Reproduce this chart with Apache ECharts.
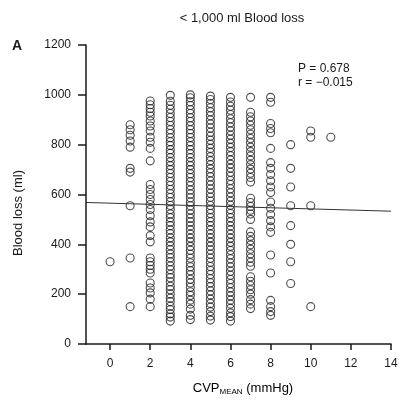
<!DOCTYPE html>
<html>
<head>
<meta charset="utf-8">
<script src="https://cdn.jsdelivr.net/npm/echarts@6/dist/echarts.min.js"></script>
<style>
  html, body { margin: 0; padding: 0; background: #fff; }
  #main { width: 402px; height: 403px; }
</style>
</head>
<body>
<div id="main"></div>
<script>
// blood loss (ml), one list per CVP value (mmHg)
var cvp0 = [330]
var cvp1 = [880, 860, 838, 815, 790, 705, 690, 555, 345, 150]
var cvp2 = [975, 960, 945, 930, 915, 895, 875, 855, 830, 810, 785, 735,
  640, 620, 600, 580, 560, 540, 515, 490, 470, 435, 410,
  345, 330, 315, 300, 285, 245, 225, 205, 180, 150]
var cvp3 = [92, 108, 121, 138, 152, 170, 184, 201, 218, 232, 250, 266, 280, 298, 313, 330, 346, 361, 378, 394,
  410, 426, 443, 458, 475, 490, 507, 522, 540, 556, 571, 588, 603, 620, 636, 652, 668, 684, 700, 716,
  732, 748, 765, 780, 797, 812, 828, 845, 860, 877, 893, 909, 925, 942, 958, 974, 998]
var cvp4 = [98, 115, 140, 160, 176, 195, 210, 228, 245, 260, 278, 294, 310, 326, 344, 360, 376, 392, 410, 425,
  441, 458, 474, 490, 505, 522, 538, 555, 570, 587, 602, 618, 635, 651, 668, 683, 700, 716, 731, 748,
  764, 780, 796, 812, 829, 845, 860, 876, 893, 908, 925, 940, 957, 972, 988, 1000]
var cvp5 = [96, 112, 130, 148, 163, 180, 197, 213, 230, 246, 262, 279, 295, 311, 328, 344, 360, 377, 393, 409,
  426, 442, 458, 475, 491, 507, 524, 540, 556, 573, 589, 605, 622, 638, 654, 671, 687, 703, 720, 736,
  752, 769, 785, 801, 818, 834, 850, 867, 883, 899, 916, 932, 948, 965, 981, 995]
var cvp6 = [92, 110, 125, 143, 160, 176, 193, 209, 226, 243, 259, 276, 292, 309, 325, 342, 358, 375, 392, 408,
  425, 441, 458, 474, 491, 507, 524, 540, 557, 573, 590, 607, 623, 640, 656, 673, 689, 706, 722, 739,
  756, 772, 789, 805, 822, 838, 855, 871, 888, 904, 921, 938, 954, 971, 990]
var cvp7 = [990, 930, 912, 895, 878, 860, 842, 825, 808, 790, 772, 755, 738, 720, 702, 685, 668, 650,
  585, 568, 552, 537, 522, 500, 450, 432, 415, 398, 380, 362, 345, 328, 312,
  270, 252, 235, 218, 200, 178, 160, 142]
var cvp8 = [990, 970, 885, 865, 848, 785, 728, 705, 680, 655, 630, 608, 570, 545, 520, 495, 470, 448,
  357, 285, 175, 150, 130, 115]
var cvp9 = [800, 705, 630, 555, 475, 400, 330, 243]
var cvp10 = [855, 830, 555, 150]
var cvp11 = [830]

// regression line ends
var fitX = [-1.2, 14]
var fitY = [568, 533]

var xTicks = [0, 2, 4, 6, 8, 10, 12, 14]

var columns = [cvp0, cvp1, cvp2, cvp3, cvp4, cvp5, cvp6, cvp7, cvp8, cvp9, cvp10, cvp11]
var points = []
columns.forEach(function (col, x) {
  col.forEach(function (v) { points.push([x, v]) })
})

var chart = echarts.init(document.getElementById('main'))
var ink = '#1a1a1a'
var font = 'Liberation Sans, Arial, sans-serif'

var option = {
  backgroundColor: '#fff',
  animation: false,
  grid: { left: 86, right: 11, top: 45, bottom: 59 },
  xAxis: {
    type: 'value',
    min: -1.2,
    max: 14,
    splitLine: { show: false },
    axisLine: { onZero: false, lineStyle: { color: ink, width: 1.5 } },
    axisTick: { length: 6, customValues: xTicks, lineStyle: { color: ink, width: 1.5 } },
    axisLabel: { customValues: xTicks, margin: 14, color: ink, fontSize: 12, fontFamily: font }
  },
  yAxis: {
    type: 'value',
    min: 0,
    max: 1200,
    interval: 200,
    splitLine: { show: false },
    axisLine: { show: true, onZero: false, lineStyle: { color: ink, width: 1.5 } },
    axisTick: { show: true, length: 8, lineStyle: { color: ink, width: 1.5 } },
    axisLabel: {
      margin: 15, color: ink, fontSize: 12, fontFamily: font,
      formatter: function (v) { return String(v) }
    }
  },
  series: [
    {
      type: 'scatter',
      symbol: 'circle',
      symbolSize: 8,
      itemStyle: { color: 'rgba(0,0,0,0)', borderColor: '#222', borderWidth: 1.1 },
      data: points
    },
    {
      type: 'line',
      symbol: 'none',
      lineStyle: { color: '#333', width: 1 },
      data: [[fitX[0], fitY[0]], [fitX[1], fitY[1]]]
    }
  ],
  graphic: [
    { type: 'text', x: 242, y: 18,
      style: { text: '< 1,000 ml Blood loss', font: '13px ' + font, fill: ink, align: 'center', verticalAlign: 'middle' } },
    { type: 'text', left: 12, top: 39, style: { text: 'A', font: 'bold 14px ' + font, fill: ink } },
    { type: 'text', left: 298, top: 62, style: { text: 'P = 0.678\nr = \u22120.015', font: '12px ' + font, fill: ink, lineHeight: 14 } },
    { type: 'text', x: 18, y: 213, rotation: Math.PI / 2,
      style: { text: 'Blood loss (ml)', font: '13px ' + font, fill: ink, align: 'center', verticalAlign: 'middle' } },
    { type: 'text', x: 243, y: 388,
      style: {
        text: '{a|CVP}{s|MEAN}{a| (mmHg)}',
        align: 'center', verticalAlign: 'middle',
        rich: {
          a: { fontSize: 13, fontFamily: font, color: ink },
          s: { fontSize: 8, fontFamily: font, color: ink, padding: [8, 0, 0, 0] }
        }
      } }
  ]
}

chart.setOption(option)
</script>
</body>
</html>
